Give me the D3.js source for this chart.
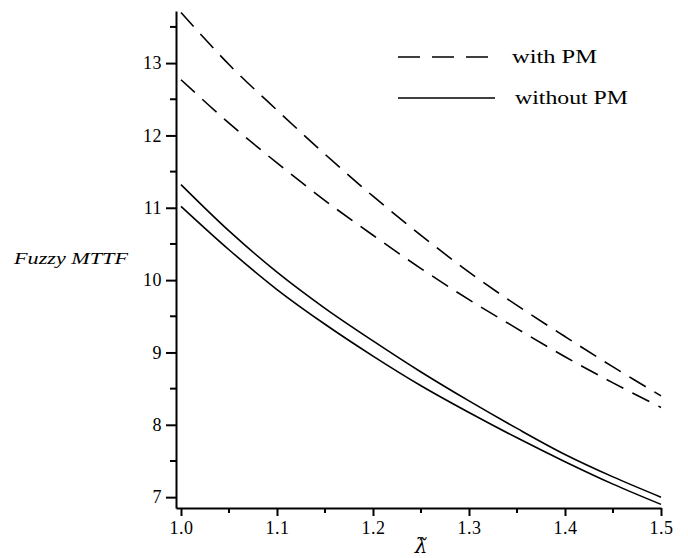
<!DOCTYPE html>
<html>
<head>
<meta charset="utf-8">
<title>Fuzzy MTTF</title>
<script src="https://cdn.jsdelivr.net/npm/d3@7"></script>
<style>
body{margin:0;background:white}
.axis path,.axis line{stroke:black;stroke-width:2}
.axis text{font-family:"Liberation Serif",serif;font-size:18px;letter-spacing:0.5px;fill:black}
</style>
</head>
<body>
<svg class="chart"></svg>
<script>
//------------DATA-----------
var lambdas=[1.0,1.05,1.1,1.15,1.2,1.25,1.3,1.35,1.4,1.45,1.5]
var withPMUpper=[13.70,12.98,12.35,11.74,11.16,10.62,10.11,9.65,9.22,8.80,8.40]
var withPMLower=[12.77,12.17,11.62,11.10,10.62,10.16,9.73,9.33,8.94,8.58,8.24]
var withoutPMUpper=[11.32,10.68,10.11,9.61,9.16,8.73,8.33,7.95,7.59,7.28,7.00]
var withoutPMLower=[11.02,10.42,9.87,9.39,8.95,8.54,8.17,7.82,7.49,7.18,6.90]
var xTicks=[1.0,1.1,1.2,1.3,1.4,1.5]
var yTicks=[7,8,9,10,11,12,13]
var legendNames=["with PM","without PM"]

//--------CHART------------
var svgWidth=688, svgHeight=558
var chart=d3.select('.chart')
    .attr('width',svgWidth)
    .attr('height',svgHeight)

var xScale=d3.scaleLinear()
    .domain([0.9948,1.5])
    .range([176,661])
var yScale=d3.scaleLinear()
    .domain([6.85,13.72])
    .range([508,11])

var xAxis=d3.axisBottom(xScale).tickValues(xTicks).tickFormat(d3.format(".1f")).tickSize(8).tickPadding(5).tickSizeOuter(0)
var yAxis=d3.axisLeft(yScale).tickValues(yTicks).tickFormat(d3.format("d")).tickSize(10).tickPadding(4).tickSizeOuter(0)

// minor ticks
var xMinor=[1.05,1.15,1.25,1.35,1.45]
var yMinor=[7.5,8.5,9.5,10.5,11.5,12.5,13.5]
chart.append("g").selectAll("line").data(xMinor).enter().append("line")
    .attr("x1",function(d){return xScale(d)}).attr("x2",function(d){return xScale(d)})
    .attr("y1",508).attr("y2",513)
    .attr("stroke","black").attr("stroke-width",2)
chart.append("g").selectAll("line").data(yMinor).enter().append("line")
    .attr("x1",170).attr("x2",176)
    .attr("y1",function(d){return yScale(d)}).attr("y2",function(d){return yScale(d)})
    .attr("stroke","black").attr("stroke-width",2)

chart.append("g")
    .attr("class","axis")
    .attr("transform","translate(0,508)")
    .call(xAxis)
chart.append("g")
    .attr("class","axis")
    .attr("transform","translate(176,0)")
    .call(yAxis)

//--------LINES------------
var series=[
    {vals:withPMUpper,dash:"19,10"},
    {vals:withPMLower,dash:"19,10"},
    {vals:withoutPMUpper,dash:null},
    {vals:withoutPMLower,dash:null}
]
var line=d3.line()
    .x(function(d,i){return xScale(lambdas[i])})
    .y(function(d){return yScale(d)})
    .curve(d3.curveCatmullRom)

series.forEach(function(s){
    chart.append("path")
        .attr("d",line(s.vals))
        .attr("fill","none")
        .attr("stroke","black")
        .attr("stroke-width",1.6)
        .attr("stroke-dasharray",s.dash)
})

//--------LEGEND------------
legendNames.forEach(function(name,i){
    var ly=57+i*41
    chart.append("line")
        .attr("x1",398).attr("x2",i==0?490:495)
        .attr("y1",ly).attr("y2",ly)
        .attr("stroke","black").attr("stroke-width",1.6)
        .attr("stroke-dasharray",i==0?"22,12":null)
    chart.append("text")
        .attr("x",i==0?512:515).attr("y",ly+6)
        .attr("textLength",i==0?85:113).attr("lengthAdjust","spacingAndGlyphs")
        .style("font-family","Liberation Serif, serif")
        .style("font-size","18px")
        .text(name)
})

//--------LABELS------------
chart.append("text")
    .attr("x",14).attr("y",264)
    .attr("textLength",114).attr("lengthAdjust","spacingAndGlyphs")
    .style("font-family","Liberation Serif, serif")
    .style("font-style","italic")
    .style("font-size","17px")
    .text("Fuzzy MTTF")
chart.append("text")
    .attr("x",421).attr("y",553)
    .attr("text-anchor","middle")
    .style("font-family","DejaVu Serif, serif")
    .style("font-style","italic")
    .style("font-size","20px")
    .text("λ̃")
</script>
</body>
</html>
